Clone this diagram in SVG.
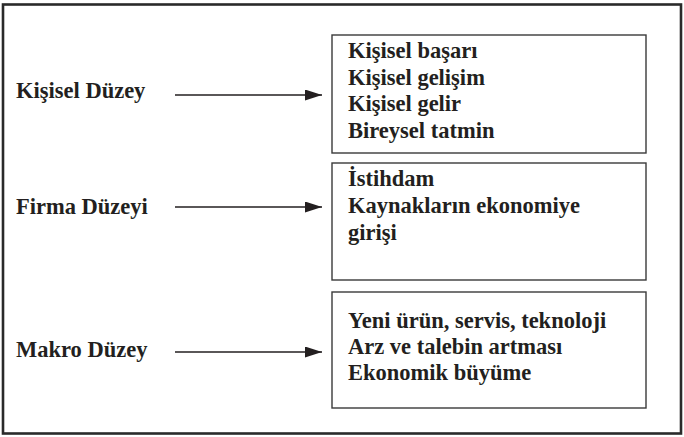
<svg xmlns="http://www.w3.org/2000/svg" width="684" height="437" viewBox="0 0 684 437">
<defs>
<style>
text{font-family:'Liberation Serif',serif;font-weight:700;font-size:22.5px;fill:#231f20}
.box{fill:#fff;stroke:#3a3a3a;stroke-width:1.4}
.conn{stroke:#231f20;stroke-width:1.3;fill:none}
</style>
<marker id="ah" markerWidth="17" markerHeight="11" refX="17" refY="5.5" orient="auto" markerUnits="userSpaceOnUse">
<path d="M0,0 L17,5.5 L0,11 Z" fill="#231f20"/>
</marker>
</defs>
<rect x="0" y="0" width="684" height="437" fill="#fff"/>
<rect x="3" y="4.5" width="678" height="429" fill="none" stroke="#2a2a2a" stroke-width="2.6"/>
<g id="connectors">
<line class="conn" x1="175" y1="95" x2="322" y2="95" marker-end="url(#ah)"/>
<line class="conn" x1="175" y1="207" x2="322" y2="207" marker-end="url(#ah)"/>
<line class="conn" x1="175" y1="352" x2="322" y2="352" marker-end="url(#ah)"/>
</g>
<g id="label-kisisel"><text x="16" y="98">Kişisel Düzey</text></g>
<g id="label-firma"><text x="16" y="214">Firma Düzeyi</text></g>
<g id="label-makro"><text x="16" y="357">Makro Düzey</text></g>
<g id="box-kisisel">
<rect class="box" x="332" y="35" width="314" height="118"/>
<text x="348" y="58">Kişisel başarı</text>
<text x="348" y="84.5">Kişisel gelişim</text>
<text x="348" y="111">Kişisel gelir</text>
<text x="348" y="137.5">Bireysel tatmin</text>
</g>
<g id="box-firma">
<rect class="box" x="332" y="163" width="314" height="117"/>
<text x="348" y="186">İstihdam</text>
<text x="348" y="213">Kaynakların ekonomiye</text>
<text x="348" y="240">girişi</text>
</g>
<g id="box-makro">
<rect class="box" x="332" y="292" width="314" height="116"/>
<text x="348" y="328">Yeni ürün, servis, teknoloji</text>
<text x="348" y="354">Arz ve talebin artması</text>
<text x="348" y="380">Ekonomik büyüme</text>
</g>
</svg>
